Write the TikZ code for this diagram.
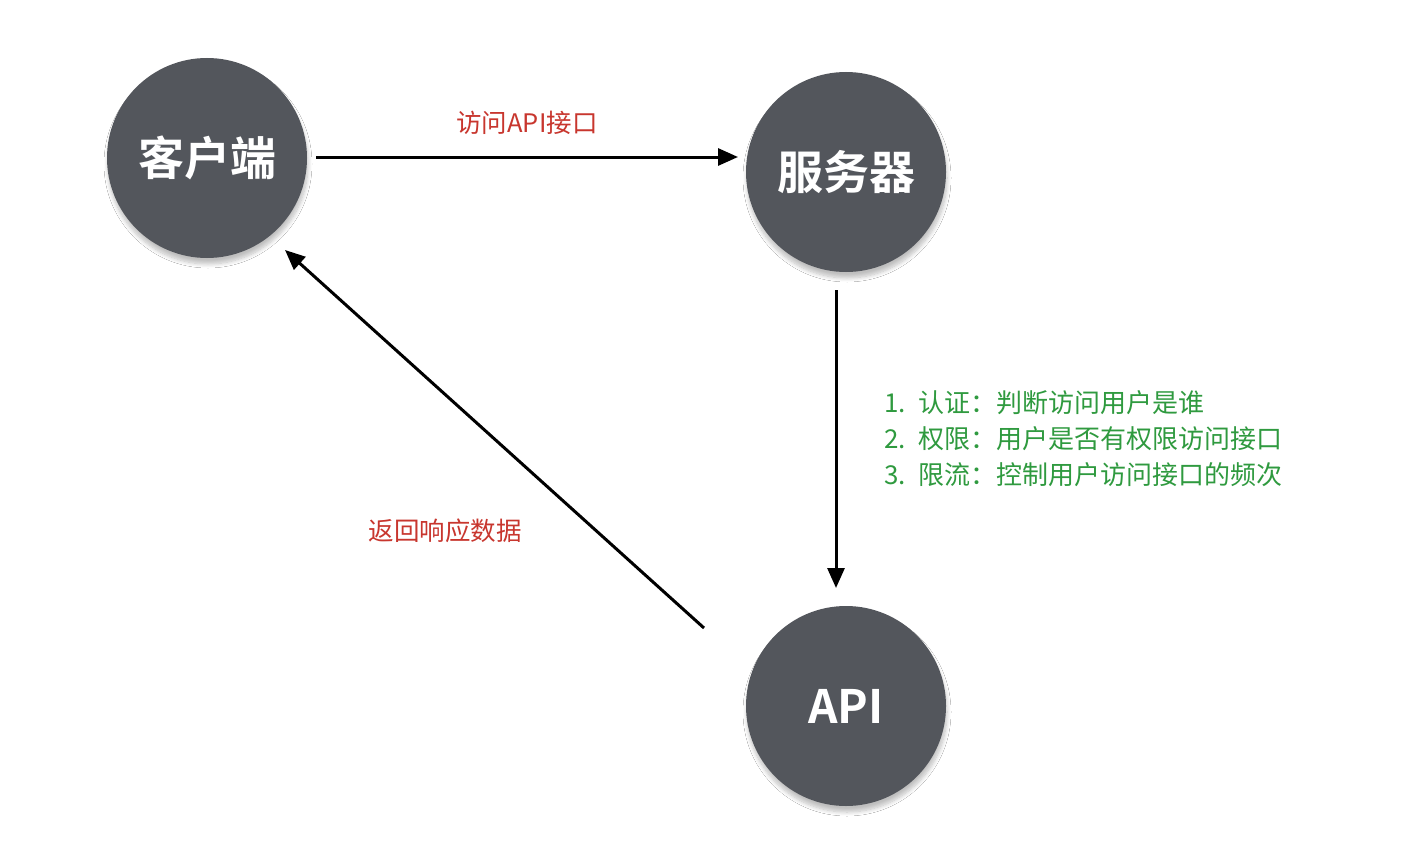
\documentclass[tikz,border=0pt]{standalone}
\usepackage{fontspec}
\setmainfont{Noto Sans CJK SC}
\newfontfamily\cjkbold{Noto Sans CJK SC Bold}
\usetikzlibrary{arrows.meta,shadows.blur}
\definecolor{circfill}{HTML}{53565C}
\definecolor{labred}{HTML}{C8362E}
\definecolor{labgreen}{HTML}{2F9A3F}
\tikzset{
  x=1pt, y=-1pt,
  bubble/.style={circle, fill=circfill, minimum size=200pt, inner sep=0pt,
    text=white, font=\cjkbold\fontsize{46}{52}\selectfont,
    blur shadow={shadow xshift=1pt, shadow yshift=-6pt, shadow blur steps=8, shadow blur radius=4pt, shadow opacity=25}},
  flow/.style={line width=3pt, -{Triangle[length=20pt,width=17pt]}},
  redlab/.style={text=labred, font=\fontsize{25.5}{28}\selectfont, inner sep=0pt},
  greenlab/.style={text=labgreen, font=\fontsize{26}{28}\selectfont, inner sep=0pt, anchor=west},
}
\newcommand{\numgap}{\hspace{13pt}}
\begin{document}
\begin{tikzpicture}
\path[use as bounding box, fill=white] (0,0) rectangle (1402,856);
\node[bubble] (client) at (207,158) {客户端};
\node[bubble] (server) at (846,172) {服务器};
\node[bubble] (api) at (846,706) {API};
\coordinate (a1s) at (316,157);
\coordinate (a1e) at (738,157);
\coordinate (a2s) at (836,290);
\coordinate (a2e) at (836,588);
\coordinate (a3s) at (704,628);
\coordinate (a3e) at (285,250);
\draw[flow] (a1s) -- (a1e);
\draw[flow] (a2s) -- (a2e);
\draw[flow] (a3s) -- (a3e);
\node[redlab] (l1) at (527,123) {访问API接口};
\node[redlab] (l2) at (445,531) {返回响应数据};
\node[greenlab] (g1) at (884,403) {1.\numgap 认证：判断访问用户是谁};
\node[greenlab] (g2) at (884,439) {2.\numgap 权限：用户是否有权限访问接口};
\node[greenlab] (g3) at (884,475) {3.\numgap 限流：控制用户访问接口的频次};
\end{tikzpicture}
\end{document}
